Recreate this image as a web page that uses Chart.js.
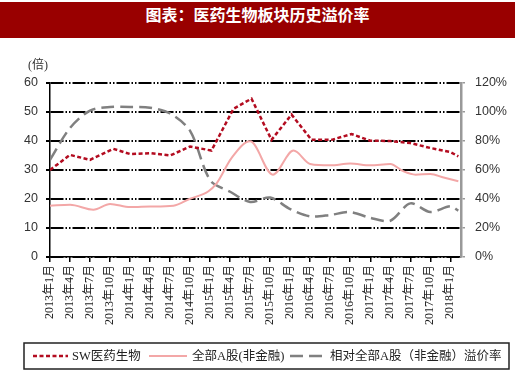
<!DOCTYPE html>
<html>
<head>
<meta charset="utf-8">
<script src="https://cdn.jsdelivr.net/npm/chart.js@4.4.1/dist/chart.umd.min.js"></script>
<style>
  html, body { margin: 0; padding: 0; background: #fff; }
  #wrap { position: relative; width: 520px; height: 384px; }
  #title {
    position: absolute; left: 0; top: 2px; width: 515px; height: 36px;
    background: #990000; color: #fff; text-align: center; line-height: 36px;
    font: bold 16px "Noto Sans CJK SC", sans-serif; z-index: 2;
  }
  #myChart { position: absolute; left: 0; top: 0; }
</style>
</head>
<body>
<div id="wrap">
  <div id="title">图表：医药生物板块历史溢价率</div>
  <canvas id="myChart" width="520" height="384"></canvas>
</div>
<script>
// months counted from 2013年1月
const tickLabels = ['2013年1月', '2013年4月', '2013年7月', '2013年10月', '2014年1月', '2014年4月',
  '2014年7月', '2014年10月', '2015年1月', '2015年4月', '2015年7月', '2015年10月', '2016年1月',
  '2016年4月', '2016年7月', '2016年10月', '2017年1月', '2017年4月', '2017年7月', '2017年10月', '2018年1月'];

const swMonths = [0, 3, 6, 9.5, 12, 15, 18, 21, 24.2, 27.5, 30.2, 33.2, 36.2, 39.2, 42.2, 45.2, 48, 51, 54, 57, 60, 61.2];
const swValues = [30, 35.2, 33.5, 37.3, 35.5, 35.8, 35.0, 38.1, 36.7, 51.1, 54.6, 40.4, 49.1, 40.4, 40.4, 42.4, 40.1, 40.0, 39.3, 37.6, 36.2, 34.7];

const allMonths = [0, 3, 6.5, 9, 12, 15, 18.5, 21, 23.7, 25, 27.2, 30, 33.4, 36.5, 39, 42, 45, 48, 51, 53, 54.8, 57, 59, 61.2];
const allValues = [17.7, 18.0, 16.3, 18.3, 17.2, 17.4, 17.7, 20.1, 22.6, 25.5, 34.1, 39.9, 28.4, 36.7, 32.1, 31.6, 32.2, 31.6, 32.1, 29.5, 28.4, 28.6, 27.4, 26.1];

const premMonths = [0, 3, 6, 9, 12, 15, 18, 21, 24, 27, 30, 33, 36, 39, 42, 45, 48, 51, 54, 57, 60, 61.2];
const premValues = [67, 89, 101, 103.5, 103.5, 103, 99, 87, 53, 45, 38, 41, 33, 28, 29, 31, 27, 25, 37, 31, 35, 32];

const pts = (xs, ys) => xs.map((x, i) => ({ x: x, y: ys[i] }));

const serif = '"Liberation Serif", "Noto Sans CJK SC", serif';
const sans = '"Liberation Sans", Arial, sans-serif';

// legend in a box under the chart, plus the (倍) unit label
const extras = {
  id: 'extras',
  afterDraw(chart) {
    const ctx = chart.ctx;
    const area = chart.chartArea;
    ctx.save();
    ctx.fillStyle = '#333';
    ctx.font = '12px ' + serif;
    ctx.textAlign = 'center';
    ctx.textBaseline = 'middle';
    ctx.fillText('(倍)', area.left - 12, area.top - 17);

    ctx.strokeStyle = '#222';
    ctx.lineWidth = 1.5;
    ctx.strokeRect(24, 343, 485, 26);
    const y = 356;
    const spots = [[33, 68, 72], [149, 187, 192], [290, 325, 330]];
    ctx.textAlign = 'left';
    ctx.font = '12.5px ' + serif;
    chart.data.datasets.forEach((ds, i) => {
      const s = spots[i];
      ctx.beginPath();
      ctx.setLineDash(ds.borderDash || []);
      ctx.strokeStyle = ds.borderColor;
      ctx.lineWidth = ds.borderWidth;
      ctx.moveTo(s[0], y);
      ctx.lineTo(s[1], y);
      ctx.stroke();
      ctx.setLineDash([]);
      ctx.fillStyle = '#222';
      ctx.fillText(ds.label, s[2], y + 1);
    });
    ctx.restore();
  }
};

const config = {
  type: 'line',
  data: {
    datasets: [
      {
        label: 'SW医药生物',
        data: pts(swMonths, swValues),
        borderColor: '#B30C20',
        borderWidth: 2.5,
        borderDash: [4, 2.5],
        tension: 0,
        yAxisID: 'y',
      },
      {
        label: '全部A股(非金融)',
        data: pts(allMonths, allValues),
        borderColor: '#F3A7A7',
        borderWidth: 2,
        tension: 0.4,
        cubicInterpolationMode: 'monotone',
        yAxisID: 'y',
      },
      {
        label: '相对全部A股（非金融）溢价率',
        data: pts(premMonths, premValues),
        borderColor: '#808080',
        borderWidth: 2.5,
        borderDash: [13, 6],
        tension: 0.3,
        yAxisID: 'y1',
      },
    ],
  },
  options: {
    responsive: false,
    animation: false,
    devicePixelRatio: 1,
    layout: { padding: { top: 83, left: 0, right: 0, bottom: 0 } },
    elements: { point: { radius: 0 } },
    scales: {
      x: {
        type: 'linear',
        min: 0,
        max: 61.6,
        border: { color: '#000', width: 1.5 },
        grid: { drawOnChartArea: false, drawTicks: true, tickLength: 5, color: '#000', lineWidth: 1.5 },
        ticks: {
          stepSize: 3,
          includeBounds: false,
          autoSkip: false,
          minRotation: 90,
          maxRotation: 90,
          padding: 3,
          color: '#222',
          font: { family: serif, size: 12 },
          callback: (v, i) => tickLabels[i],
        },
        afterFit: (s) => { s.height = 127; },
      },
      y: {
        position: 'left',
        min: 0,
        max: 60,
        // dash applies to the gridlines, the axis line stays solid
        border: { color: '#000', width: 1.5, dash: [13, 2, 1.5, 2, 1.5, 2] },
        grid: { color: '#000', lineWidth: 2, tickLength: 4 },
        ticks: { stepSize: 10, padding: 8, color: '#333', font: { family: sans, size: 12.5 } },
        afterFit: (s) => { s.width = 50; },
      },
      y1: {
        position: 'right',
        min: 0,
        max: 120,
        border: { color: '#999', width: 2.5 },
        grid: { drawOnChartArea: false, tickLength: 4, color: '#999', lineWidth: 1.5 },
        ticks: { stepSize: 20, padding: 10, color: '#333', font: { family: sans, size: 12.5 }, callback: (v) => v + '%' },
        afterFit: (s) => { s.width = 59; },
      },
    },
    plugins: {
      legend: { display: false },
      tooltip: { enabled: false },
    },
  },
  plugins: [extras],
};

const myChart = new Chart(document.getElementById('myChart'), config);
</script>
</body>
</html>
